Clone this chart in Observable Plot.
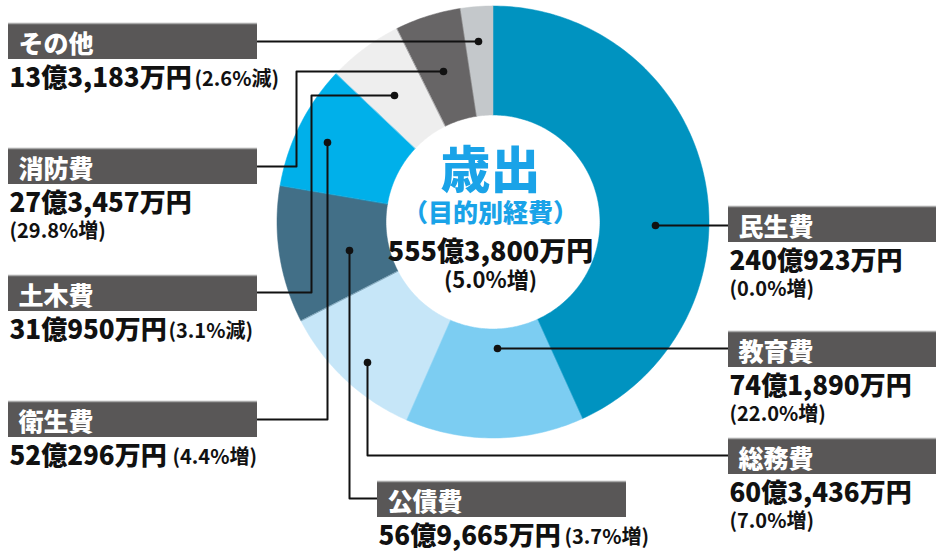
<!DOCTYPE html>
<html><head><meta charset="utf-8">
<script src="https://cdn.jsdelivr.net/npm/d3@7"></script>
<script src="https://cdn.jsdelivr.net/npm/@observablehq/plot@0.6"></script>
<style>body{margin:0;background:#fff}</style>
</head><body><div id="chart"></div>
<script>
// ---- data ----
const names   = ["民生費","教育費","総務費","公債費","衛生費","土木費","消防費","その他"];
const amounts = [2400923, 741890, 603436, 569665, 520296, 310950, 273457, 133183]; // 万円
const changes = ["0.0%増","22.0%増","7.0%増","3.7%増","4.4%増","3.1%減","29.8%増","2.6%減"];
const totalAmount = 5553800; // 万円
const totalChange = "5.0%増";
const centerTitle = "歳出";
const centerSub = "（目的別経費）";

// ---- style / layout ----
const colors = ["#0093c0","#7ccdf2","#c6e6f8","#426f87","#00b0ea","#eeeeee","#676566","#c4c8cb"];
const CX = 493, CY = 222, R_OUT = 216, R_IN = 107;
const boxX = [728, 728, 728, 377, 8, 8, 8, 8];
const boxY = [206, 331, 438, 481, 401, 275, 148, 23];
const boxW = [208, 208, 208, 249, 249, 249, 249, 249];
const BOX_H = 36;
const inlineX = [null, null, null, 564, 172, 168, null, 194];
const leaders = [
  [[655,225],[728,225]],
  [[497,348],[728,348]],
  [[367,362],[367,455],[728,455]],
  [[349,250],[349,498],[377,498]],
  [[327,142],[327,419],[257,419]],
  [[394,95],[311,95],[311,292],[257,292]],
  [[443,71],[296,71],[296,166],[257,166]],
  [[478,41],[257,41]]
];

const fmt = d3.format(",");
const yen = v => `${Math.floor(v/10000)}億${fmt(v % 10000)}万円`;

// slices
const arcs = d3.pie().sort(null).value(d => d)(amounts);
const slicePts = [];
arcs.forEach((a, i) => {
  const n = Math.max(2, Math.ceil((a.endAngle - a.startAngle) / (Math.PI/180)));
  for (let k = 0; k <= n; k++) {
    const t = a.startAngle + (a.endAngle - a.startAngle) * k / n;
    slicePts.push({name: names[i],
      x1: CX + R_IN * Math.sin(t), y1: CY - R_IN * Math.cos(t),
      x2: CX + R_OUT * Math.sin(t), y2: CY - R_OUT * Math.cos(t)});
  }
});

const labels = names.map((n, i) => ({
  name: n, value: yen(amounts[i]), change: `(${changes[i]})`,
  bx: boxX[i], by: boxY[i], bw: boxW[i], ix: inlineX[i]
}));
const leaderPts = leaders.flatMap((pts, i) => pts.map(([x, y]) => ({name: names[i], x, y})));
const dots = leaders.map((pts, i) => ({x: pts[0][0], y: pts[0][1]}));

const FONT = "'Noto Sans CJK JP', 'Noto Sans', sans-serif";

const chart = Plot.plot({
  width: 936, height: 551, margin: 0,
  x: {domain: [0, 936], range: [0, 936], axis: null},
  y: {domain: [0, 551], range: [0, 551], axis: null},
  color: {domain: names, range: colors},
  style: {fontFamily: FONT, background: "#fff"},
  marks: [
    Plot.area(slicePts, {x1: "x1", y1: "y1", x2: "x2", y2: "y2", z: "name", fill: "name", stroke: "name", strokeWidth: 0.5}),
    Plot.line(leaderPts, {x: "x", y: "y", z: "name", stroke: "#111", strokeWidth: 2, curve: "linear"}),
    Plot.dot(dots, {x: "x", y: "y", r: 3.8, fill: "#111"}),
    Plot.rect(labels, {x1: "bx", x2: d => d.bx + d.bw, y1: "by", y2: d => d.by + BOX_H, fill: "#595757"}),
    Plot.ruleY(labels, {x1: "bx", x2: d => d.bx + d.bw, y: "by", stroke: "#a9a9a9", strokeWidth: 1.5}),
    Plot.text(labels, {x: d => d.bx + 10, y: d => d.by + 29, text: "name", textAnchor: "start", lineAnchor: "bottom", fill: "#fff", fontSize: 25, fontWeight: 900}),
    Plot.text(labels, {x: d => d.bx + 1, y: d => d.by + 63, text: "value", textAnchor: "start", lineAnchor: "bottom", fill: "#111", fontSize: 26, fontWeight: 900}),
    Plot.text(labels.filter(d => d.ix != null), {x: "ix", y: d => d.by + 62, text: "change", textAnchor: "start", lineAnchor: "bottom", fill: "#111", fontSize: 20, fontWeight: 700}),
    Plot.text(labels.filter(d => d.ix == null), {x: d => d.bx + 1, y: d => d.by + 89, text: "change", textAnchor: "start", lineAnchor: "bottom", fill: "#111", fontSize: 20, fontWeight: 700}),
    Plot.text([centerTitle], {x: CX - 3, y: CY - 35, text: d => d, fill: "#1aa3e8", fontSize: 50, fontWeight: 900, lineAnchor: "bottom"}),
    Plot.text([centerSub], {x: CX - 3, y: CY - 1, text: d => d, fill: "#1aa3e8", fontSize: 25, fontWeight: 900, lineAnchor: "bottom"}),
    Plot.text([yen(totalAmount)], {x: CX - 3, y: CY + 38, text: d => d, fill: "#111", fontSize: 27, fontWeight: 900, lineAnchor: "bottom"}),
    Plot.text([`(${totalChange})`], {x: CX - 3, y: CY + 65, text: d => d, fill: "#111", fontSize: 22, fontWeight: 700, lineAnchor: "bottom"})
  ]
});
document.getElementById("chart").appendChild(chart);
</script>
</body></html>
